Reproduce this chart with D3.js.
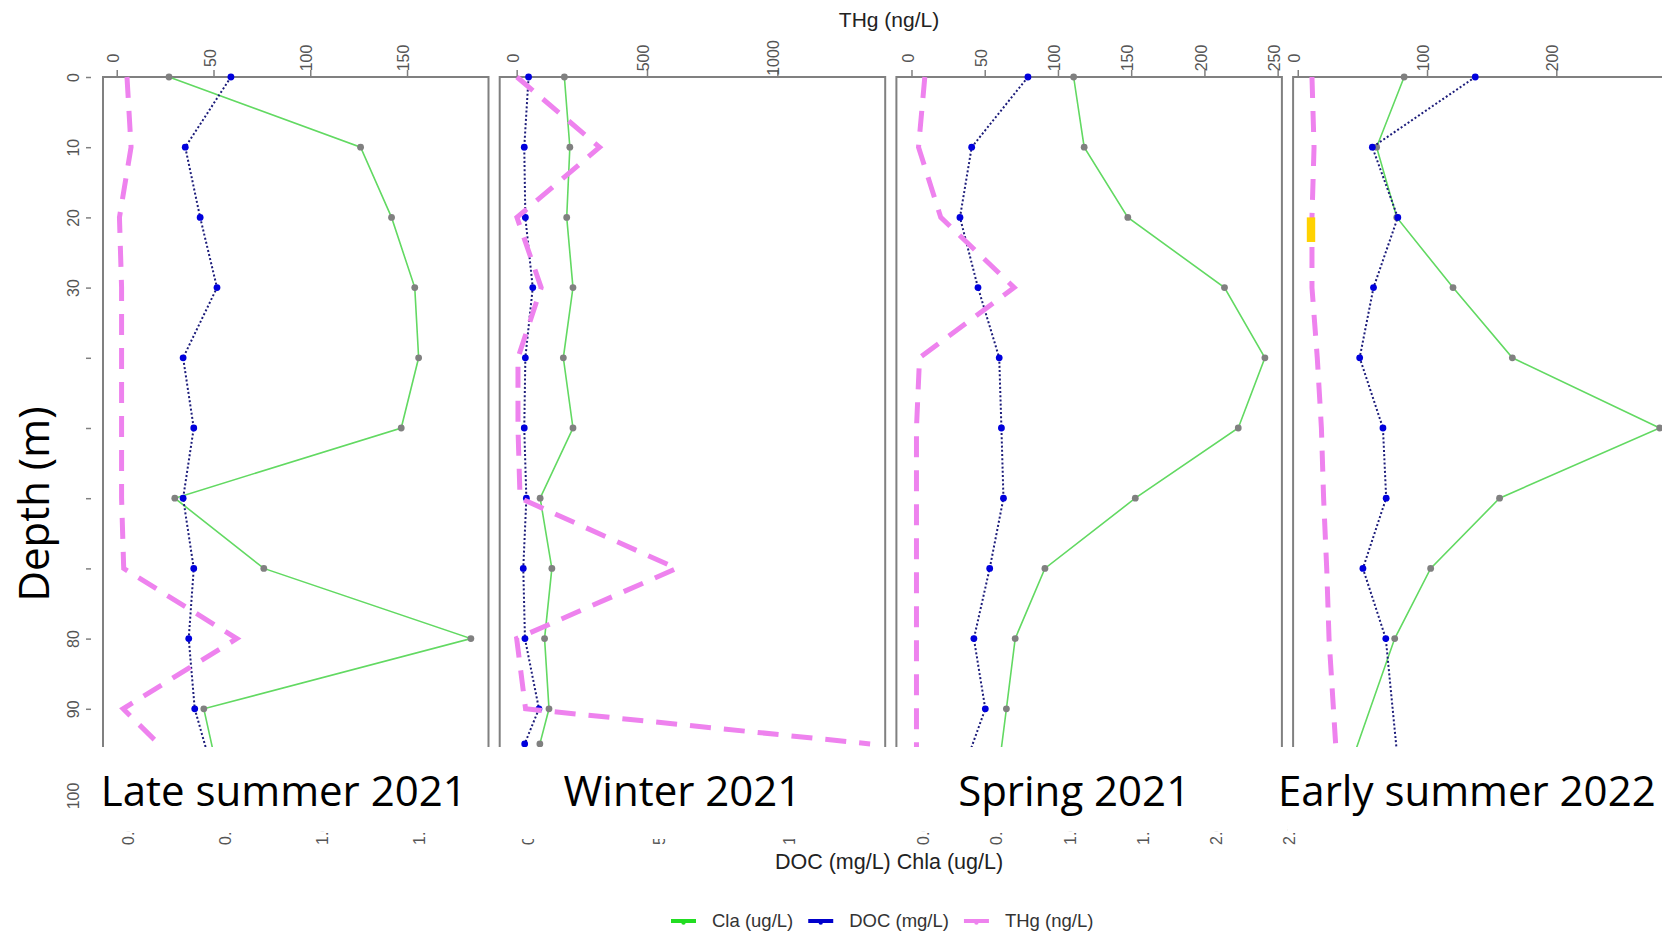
<!DOCTYPE html>
<html><head><meta charset="utf-8">
<script src="https://cdn.jsdelivr.net/npm/d3@7"></script>
<style>body{margin:0;background:#fff;}svg{display:block;}</style>
</head><body><svg id="c" width="1662" height="934"></svg>
<script>
// ---------- data ----------
const seasons = ["Late summer 2021", "Winter 2021", "Spring 2021", "Early summer 2022"];

const depthsLate   = [0,10,20,30,40,50,60,70,80,90,100];
const chlaLate     = [27,126,142,154,156,147,30,76,183,45,53];
const docLate      = [59,35.4,43.1,51.8,34.3,39.8,34.3,39.8,37.2,40.3,50.6];
const thgLate      = [5.3,7.4,1.4,2.5,2.5,2.5,2.5,3.6,62,3.3,40];

const depthsWinter = [0,10,20,30,40,50,60,70,80,90,95];
const chlaWinter   = [183,204,192,216,179,216,90,135,107,124,89];
const docWinter    = [45.6,29.1,33.3,61.7,33.3,29.1,37.2,25.3,31.8,85.4,30.7];
const thgWinter    = [1,318,1,94,5,5,13,614,0,34,1356];

const depthsSpring = [0,10,20,30,40,50,60,70,80,90,100];
const chlaSpring   = [110.7,117.9,147.7,213.7,241.3,223.1,152.8,91.1,70.8,64.8,58.7];
const docSpring    = [79.5,41.1,33.1,45.4,59.9,61.4,62.8,53.4,42.6,50.4,33.2];
const thgSpring    = [9.1,4.8,20.0,70.1,5.5,3.4,3.4,3.4,3.4,3.4,3.4];

const depthsEarly  = [0,10,20,30,40,50,60,70,80,100];
const chlaEarly    = [82.3,61.0,76.6,120.1,166.0,280.0,156.1,102.8,75.0,37];
const docEarly     = [137.3,57.7,77.4,58.6,47.9,65.9,68.4,50.4,68.1,78.7];
const thgEarly     = [11.0,12.6,11.0,11.0,15.1,18.3,20.0,22.4,24.2,31];

// top (THg) axis ticks per panel
const topTicksLate   = [0,50,100,150];
const topTicksWinter = [0,500,1000];
const topTicksSpring = [0,50,100,150,200,250];
const topTicksEarly  = [0,100,200];

// bottom (DOC / Chla) axis labels, mostly hidden under the titles
const bottomLabelsLate   = ["0.0","0.5","1.0","1.5"];
const bottomLabelsWinter = ["0","5","10"];
const bottomLabelsSpring = ["0.0","0.5","1.0","1.5","2.0","2.5"];
const bottomLabelsEarly  = [];

const xDomainLate   = [-7.1,192.1];
const xDomainWinter = [-65.1,1413.8];
const xDomainSpring = [-10.3,252.9];
const xDomainEarly  = [-3.6,294.6];

const depthTicks   = [0,10,20,30,40,50,60,70,80,90];
const depthLabeled = [0,10,20,30,80,90];
const highlightEarly = {x:[7,13.5], depth:[20,23.5]};   // yellow mark

const seriesNames = ["Cla (ug/L)", "DOC (mg/L)", "THg (ng/L)"];

// ---------- build ----------
const panels = [
  {title: seasons[0], depths: depthsLate,   chla: chlaLate,   doc: docLate,   thg: thgLate,   ticks: topTicksLate,   bl: bottomLabelsLate,   dom: xDomainLate,   tShift:-12, cover:831.5},
  {title: seasons[1], depths: depthsWinter, chla: chlaWinter, doc: docWinter, thg: thgWinter, ticks: topTicksWinter, bl: bottomLabelsWinter, dom: xDomainWinter, tShift:-10, cover:839},
  {title: seasons[2], depths: depthsSpring, chla: chlaSpring, doc: docSpring, thg: thgSpring, ticks: topTicksSpring, bl: bottomLabelsSpring, dom: xDomainSpring, tShift:-15, cover:831.5},
  {title: seasons[3], depths: depthsEarly,  chla: chlaEarly,  doc: docEarly,  thg: thgEarly,  ticks: topTicksEarly,  bl: bottomLabelsEarly,  dom: xDomainEarly,  tShift:-19, cover:831.5}
];

const COL_CHLA = "#62d962", COL_PT_CHLA = "#808080";
const COL_DOC_LINE = "#1c1c7a", COL_PT_DOC = "#0000dd";
const COL_THG = "#ee82ee";
const BOX = "#808080", TICKTXT = "#555";

const svg = d3.select("#c");
const top0 = 77, boxBottom = 747;
const y = d3.scaleLinear().domain([0,100]).range([top0, top0 + 702]);

const panelLeft0 = 103, panelStep = 396.7, panelW = 385.5;
const defs = svg.append("defs");

// bottom (truncated) tick labels drawn first, partly covered later
panels.forEach((p,i)=>{
  const x0 = panelLeft0 + i*panelStep;
  const x = d3.scaleLinear().domain(p.dom).range([x0, x0+panelW]);
  p.x = x; p.x0 = x0;
  p.bl.forEach((lab,k)=>{
    svg.append("text")
      .attr("transform", `translate(${x(p.ticks[k])+12},845) rotate(-90)`)
      .attr("dy","0.35em").attr("text-anchor","start")
      .attr("font-family","Liberation Sans, Arial, sans-serif").attr("font-size",16)
      .attr("fill",TICKTXT).text(lab);
  });
});
// white band where the titles sit
panels.forEach((p,i)=>{
  const xl = i===0 ? 95 : p.x0 - 6;
  const xr = i===3 ? 1662 : p.x0 + panelStep - 6;
  svg.append("rect").attr("x",xl).attr("y",boxBottom).attr("width",xr-xl).attr("height",p.cover-boxBottom).attr("fill","#fff");
});

panels.forEach((p,i)=>{
  const x = p.x, x0 = p.x0;
  const g = svg.append("g");
  const clipId = "clip"+i;
  defs.append("clipPath").attr("id",clipId).append("rect")
    .attr("x",x0).attr("y",top0-4).attr("width",panelW).attr("height",boxBottom-top0+4);

  g.append("path").attr("d",`M${x0},${boxBottom}V${top0}H${x0+panelW}V${boxBottom}`)
    .attr("fill","none").attr("stroke",BOX).attr("stroke-width",2);

  const ax = d3.axisTop(x).tickValues(p.ticks).tickSize(7).tickFormat(d=>d);
  const axg = g.append("g").attr("transform",`translate(0,${top0})`).call(ax);
  axg.select(".domain").remove();
  axg.selectAll(".tick line").attr("stroke",BOX).attr("stroke-width",1.5);
  axg.selectAll(".tick text")
    .attr("transform","translate(-4,-19) rotate(-90)")
    .attr("x",0).attr("y",0).attr("dy","0.35em").attr("text-anchor","middle")
    .attr("font-family","Liberation Sans, Arial, sans-serif").attr("font-size",16)
    .attr("fill",TICKTXT);

  const plot = g.append("g").attr("clip-path",`url(#${clipId})`);
  const mk = (vals)=>p.depths.map((d,k)=>[vals[k],d]);
  const line = d3.line().x(d=>x(d[0])).y(d=>y(d[1]));

  plot.append("path").attr("d",line(mk(p.chla))).attr("fill","none")
    .attr("stroke",COL_CHLA).attr("stroke-width",1.6);
  plot.selectAll(".pc").data(mk(p.chla)).enter().append("circle")
    .attr("cx",d=>x(d[0])).attr("cy",d=>y(d[1])).attr("r",3.4).attr("fill",COL_PT_CHLA);
  plot.append("path").attr("d",line(mk(p.doc))).attr("fill","none")
    .attr("stroke",COL_DOC_LINE).attr("stroke-width",2).attr("stroke-dasharray","2,2.2");
  plot.selectAll(".pd").data(mk(p.doc)).enter().append("circle")
    .attr("cx",d=>x(d[0])).attr("cy",d=>y(d[1])).attr("r",3.4).attr("fill",COL_PT_DOC);
  plot.append("path").attr("d",line(mk(p.thg))).attr("fill","none")
    .attr("stroke",COL_THG).attr("stroke-width",5).attr("stroke-dasharray","21,13");

  if (i===3) {
    plot.append("rect")
      .attr("x",x(highlightEarly.x[0])).attr("y",y(highlightEarly.depth[0]))
      .attr("width",x(highlightEarly.x[1])-x(highlightEarly.x[0]))
      .attr("height",y(highlightEarly.depth[1])-y(highlightEarly.depth[0]))
      .attr("fill","#ffd200");
  }

  svg.append("text").attr("x",x0+panelW/2+p.tShift).attr("y",806).attr("text-anchor","middle")
    .attr("font-family","Open Sans, sans-serif").attr("font-size",42).attr("fill","#000")
    .text(p.title);
});

// depth axis
const ya = d3.axisLeft(y).tickValues(depthTicks).tickSize(5)
  .tickFormat(d=>depthLabeled.includes(d)?d:"");
const yg = svg.append("g").attr("transform","translate(91,0)").call(ya);
yg.select(".domain").remove();
yg.selectAll(".tick line").attr("stroke",BOX).attr("stroke-width",1.5);
yg.selectAll(".tick text")
  .attr("transform","translate(-18,0) rotate(-90)").attr("x",0).attr("y",0)
  .attr("dy","0.35em").attr("text-anchor","middle")
  .attr("font-family","Liberation Sans, Arial, sans-serif").attr("font-size",16).attr("fill",TICKTXT);
svg.append("text").attr("transform",`translate(73,${y(100)+17}) rotate(-90)`)
  .attr("dy","0.35em").attr("text-anchor","middle")
  .attr("font-family","Liberation Sans, Arial, sans-serif").attr("font-size",16).attr("fill",TICKTXT)
  .text(100);

svg.append("text").attr("transform","translate(34,504) rotate(-90)")
  .attr("dy","0.35em").attr("text-anchor","middle")
  .attr("font-family","Open Sans, sans-serif").attr("font-size",42).attr("fill","#000")
  .text("Depth (m)");

svg.append("text").attr("x",889).attr("y",20).attr("dy","0.35em").attr("text-anchor","middle")
  .attr("font-family","Liberation Sans, Arial, sans-serif").attr("font-size",21).attr("fill","#222")
  .text("THg (ng/L)");
svg.append("text").attr("x",889).attr("y",861).attr("dy","0.35em").attr("text-anchor","middle")
  .attr("font-family","Liberation Sans, Arial, sans-serif").attr("font-size",21.5).attr("fill","#222")
  .text("DOC (mg/L) Chla (ug/L)");

// legend
const legCols = ["#22dd22", "#0000cc", COL_THG];
let lx = 671; const ly = 921;
seriesNames.forEach((n,k)=>{
  svg.append("line").attr("x1",lx).attr("x2",lx+25).attr("y1",ly).attr("y2",ly)
    .attr("stroke",legCols[k]).attr("stroke-width",4);
  svg.append("circle").attr("cx",lx+12.5).attr("cy",ly+1.5).attr("r",2.2).attr("fill",legCols[k]);
  const t = svg.append("text").attr("x",lx+41).attr("y",ly).attr("dy","0.35em")
    .attr("font-family","Liberation Sans, Arial, sans-serif").attr("font-size",18.5).attr("fill","#333").text(n);
  lx = lx + 41 + t.node().getComputedTextLength() + 15;
});
</script></body></html>
